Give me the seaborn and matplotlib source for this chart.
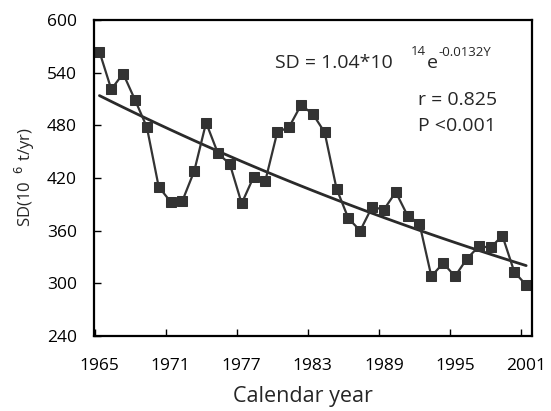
import numpy as np
import pandas as pd
import matplotlib
matplotlib.use("Agg")
import matplotlib.pyplot as plt
import seaborn as sns

years = list(range(1965, 2002))
sd_values = [564, 521, 539, 509, 478, 410, 393, 394, 428, 483,
             448, 436, 391, 421, 417, 472, 478, 503, 493, 472,
             408, 374, 360, 387, 384, 404, 377, 368, 308, 323,
             308, 328, 342, 341, 354, 313, 298]
tick_years = [1965, 1971, 1977, 1983, 1989, 1995, 2001]
y_ticks = [240, 300, 360, 420, 480, 540, 600]

df = pd.DataFrame({"year": years, "sd": sd_values})
# exponential fit
b, a = np.polyfit(df["year"], np.log(df["sd"]), 1)
df["fit"] = np.exp(a + b * df["year"])

sns.set_theme(style="white")
plt.rcParams["font.family"] = ["Open Sans", "DejaVu Sans"]

W, H = 551, 411
fig = plt.figure(figsize=(W / 100, H / 100), dpi=100)
ax = fig.add_axes([93.5 / W, 1 - 336 / H, (531.5 - 93.5) / W, (336 - 20) / H])

sns.lineplot(data=df, x="year", y="fit", ax=ax, color="#2a2a2a", linewidth=2.0)
sns.lineplot(data=df, x="year", y="sd", ax=ax, color="#333333", linewidth=1.6,
             marker="s", markersize=7.4, markeredgecolor="#333333",
             markerfacecolor="#333333")

ax.set_xlim(1964.5, 2001.45)
ax.set_ylim(240, 600)
# labels centred on the years, tick marks slightly to the left (as in reference)
ax.set_xticks(tick_years)
ax.set_xticklabels([str(t) for t in tick_years])
ax.set_xticks(np.array(tick_years) - 0.4, minor=True)
ax.set_yticks(y_ticks)
ax.set_yticklabels([str(t) for t in y_ticks])
ax.tick_params(axis="x", which="major", length=0, pad=16, labelsize=12.5,
               colors="black", bottom=True)
ax.tick_params(axis="x", which="minor", direction="in", length=5, width=1,
               bottom=True, color="black")
ax.tick_params(axis="y", which="major", direction="in", length=5, width=1,
               labelsize=12.5, colors="black", pad=12, left=True)
for s in ax.spines.values():
    s.set_visible(True)
    s.set_color("black")
    s.set_linewidth(1.6)
ax.set_xlabel("")
ax.set_ylabel("")

fig.text(25 / W, 1 - 177 / H, "SD(10  $^{6}$ t/yr)", rotation=90, ha="center",
         va="center", fontsize=12)
fig.text(303 / W, 1 - 396 / H, "Calendar year", ha="center", va="center", fontsize=15.5)

fs = 14
fig.text(275 / W, 1 - 68 / H, "SD = 1.04*10", ha="left", va="baseline", fontsize=fs)
fig.text(411 / W, 1 - 55 / H, "14", ha="left", va="baseline", fontsize=9.5)
fig.text(427 / W, 1 - 68 / H, "e", ha="left", va="baseline", fontsize=fs)
fig.text(438 / W, 1 - 56 / H, "-0.0132Y", ha="left", va="baseline", fontsize=9.5)
fig.text(418 / W, 1 - 105 / H, "r = 0.825", ha="left", va="baseline", fontsize=fs)
fig.text(418 / W, 1 - 131 / H, "P <0.001", ha="left", va="baseline", fontsize=fs)

fig.savefig("out.png", dpi=100, facecolor="white")
